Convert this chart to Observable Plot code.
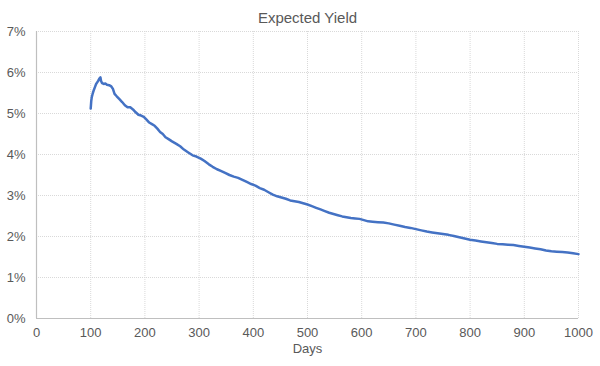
<!DOCTYPE html>
<html><head><meta charset="utf-8">
<script src="https://cdn.jsdelivr.net/npm/d3@7"></script>
<script src="https://cdn.jsdelivr.net/npm/@observablehq/plot@0.6"></script>
<style>body{margin:0;background:#fff;font-family:"Liberation Sans",Arial,sans-serif}</style>
</head><body><div id="chart"></div>
<script>
const title = "Expected Yield";
const xLabel = "Days";
const xTicks = [0, 100, 200, 300, 400, 500, 600, 700, 800, 900, 1000];
const yTicks = [0, 1, 2, 3, 4, 5, 6, 7];
const days = [100,101,102,104,106,108,110,112,114,116,118,119,121,124,127,130,134,138,141,144,148,153,158,163,168,173,178,183,188,193,198,203,208,213,218,223,228,233,238,243,250,258,265,272,280,288,295,303,310,318,325,333,340,348,356,364,372,380,388,396,404,412,420,428,436,444,452,460,468,476,484,492,500,508,516,524,532,540,548,556,564,572,580,588,596,604,612,620,630,640,650,660,670,680,690,700,710,720,730,740,750,760,770,780,790,800,810,820,830,840,850,860,870,880,890,900,910,920,930,940,950,960,970,980,990,1000];
const yields = [5.12,5.30,5.40,5.50,5.58,5.65,5.72,5.76,5.80,5.85,5.88,5.80,5.74,5.72,5.73,5.70,5.69,5.66,5.60,5.48,5.42,5.35,5.28,5.20,5.15,5.15,5.10,5.03,4.97,4.95,4.92,4.85,4.78,4.74,4.70,4.63,4.55,4.50,4.42,4.38,4.32,4.26,4.20,4.12,4.05,3.98,3.95,3.90,3.84,3.76,3.70,3.64,3.60,3.55,3.50,3.46,3.43,3.38,3.33,3.28,3.24,3.18,3.14,3.08,3.02,2.98,2.95,2.92,2.88,2.86,2.84,2.81,2.78,2.74,2.70,2.66,2.62,2.58,2.55,2.52,2.49,2.47,2.45,2.44,2.43,2.40,2.37,2.36,2.35,2.34,2.32,2.29,2.26,2.23,2.21,2.18,2.15,2.12,2.10,2.08,2.06,2.04,2.01,1.98,1.95,1.92,1.90,1.88,1.86,1.84,1.82,1.81,1.80,1.79,1.77,1.75,1.73,1.71,1.69,1.66,1.64,1.63,1.62,1.61,1.59,1.57];
const data = days.map((d, i) => ({day: d, y: yields[i]}));
const textColor = "#595959";
const plot = Plot.plot({
  width: 600, height: 366,
  marginTop: 31, marginLeft: 36, marginRight: 22, marginBottom: 48,
  style: {fontFamily: '"Liberation Sans", Arial, sans-serif', fontSize: "13px", color: textColor, background: "#fff"},
  x: {domain: [0, 1000]},
  y: {domain: [0, 7]},
  marks: [
    Plot.gridX(xTicks.filter(t => t > 0), {stroke: "#d9d9d9", strokeOpacity: 1, strokeDasharray: "1,1"}),
    Plot.gridY(yTicks.filter(t => t > 0), {stroke: "#d9d9d9", strokeOpacity: 1, strokeDasharray: "1,1"}),
    Plot.ruleX([0], {stroke: "#bfbfbf", strokeWidth: 1.2}),
    Plot.ruleY([0], {stroke: "#bfbfbf", strokeWidth: 1.2}),
    Plot.axisX(xTicks, {tickSize: 0, tickPadding: 9, tickFormat: d => String(d), label: null, fontSize: 13, fill: textColor}),
    Plot.axisY(yTicks, {tickSize: 0, tickPadding: 11, tickFormat: d => d + "%", label: null, fontSize: 13, fill: textColor}),
    Plot.line(data, {x: "day", y: "y", stroke: "#4472c4", strokeWidth: 2.5, strokeLinejoin: "round"}),
    Plot.text([title], {frameAnchor: "top", dy: -19, fontSize: 15, fill: textColor}),
    Plot.text([xLabel], {frameAnchor: "bottom", dy: 34, fontSize: 13, fill: textColor})
  ]
});
document.getElementById("chart").appendChild(plot);
</script>
</body></html>
